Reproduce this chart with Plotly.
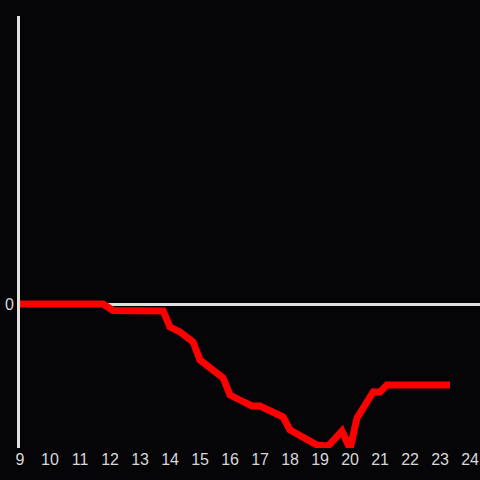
import plotly.graph_objects as go

hours = [9.0, 11.77, 12.1, 13.77, 14.0, 14.33, 14.77, 15.0, 15.77, 16.0, 16.33, 16.73,
         17.0, 17.77, 18.0, 18.9, 19.27, 19.73, 20.0, 20.23, 20.77, 21.0, 21.23, 23.33]
values = [0.0, 0.0, -0.65, -0.7, -2.3, -2.8, -3.8, -5.6, -7.4, -9.1, -9.6, -10.2,
          -10.2, -11.3, -12.6, -14.1, -14.2, -12.7, -14.5, -11.4, -8.8, -8.8, -8.1, -8.1]
x_ticks = list(range(9, 25))

fig = go.Figure(go.Scatter(x=hours, y=values, mode="lines",
                           line=dict(color="#ff0000", width=7)))

fig.update_layout(
    width=480, height=480,
    margin=dict(l=20, r=0, t=16, b=32, autoexpand=False),
    paper_bgcolor="#050407", plot_bgcolor="#050407",
    showlegend=False,
    font=dict(family="Liberation Sans, Arial, sans-serif", size=16, color="#d8d8d8"),
    xaxis=dict(range=[9, 24.33], tickvals=x_ticks, showgrid=False, zeroline=False,
               showline=False, ticks="", automargin=False,
               tickfont=dict(size=16, color="#d8d8d8")),
    yaxis=dict(range=[-14.4, 28.8], tickvals=[0], showgrid=False, zeroline=True,
               zerolinecolor="#e0e0e0", zerolinewidth=3, showline=True,
               linecolor="#e0e0e0", linewidth=3, ticks="", automargin=False,
               tickfont=dict(size=16, color="#d8d8d8")),
)

fig.write_html("out.html", config={"displayModeBar": False},
               post_script="document.body.style.margin='0';document.body.style.background='#050407';")
